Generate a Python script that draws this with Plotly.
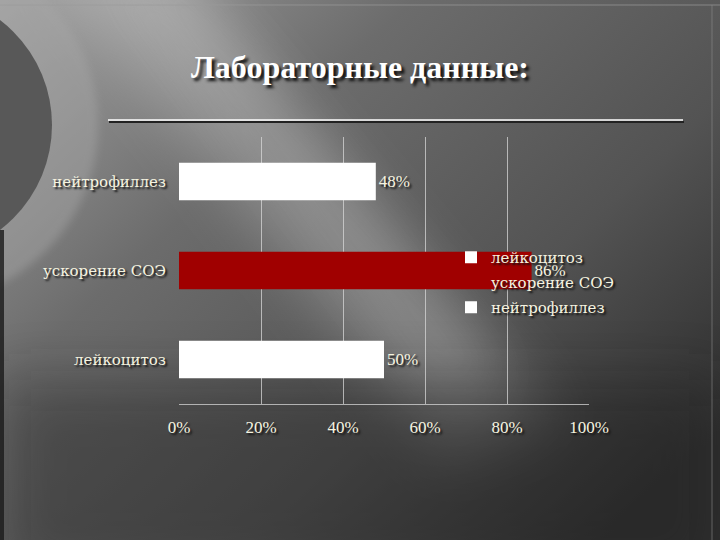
import urllib.parse
import plotly.graph_objects as go

# ---- data ----
categories = ["лейкоцитоз", "ускорение СОЭ", "нейтрофиллез"]
values = [50, 86, 48]
labels = ["50%", "86%", "48%"]
bar_colors = ["#ffffff", "#a00000", "#ffffff"]
tick_vals = [0, 20, 40, 60, 80, 100]
tick_text = ["0%", "20%", "40%", "60%", "80%", "100%"]
title_text = "Лабораторные данные:"

W, H = 720, 540
L, R, T, B = 179, 131, 137, 136
PW, PH = W - L - R, H - T - B


def px(x):
    return (x - L) / PW


def py(y):
    return (H - B - y) / PH


cream = "#f6f4e0"
serif = "Liberation Serif"
wide_serif = "DejaVu Serif"
shadow = "2px 2px 2px #111"

svg = f"""<svg xmlns='http://www.w3.org/2000/svg' width='{W}' height='{H}' viewBox='0 0 {W} {H}'>
<defs>
<linearGradient id='g' x1='0' y1='0' x2='1' y2='0.8'>
<stop offset='0' stop-color='#a2a2a2'/>
<stop offset='0.35' stop-color='#6c6c6c'/>
<stop offset='0.7' stop-color='#535353'/>
<stop offset='1' stop-color='#2e2e2e'/>
</linearGradient>
<filter id='b' x='-50%' y='-50%' width='200%' height='200%'><feGaussianBlur stdDeviation='28'/></filter>
<filter id='b2' x='-50%' y='-50%' width='200%' height='200%'><feGaussianBlur stdDeviation='4'/></filter>
</defs>
<rect width='{W}' height='{H}' fill='url(#g)'/>
<polygon points='40,-40 170,-40 560,420 440,460' fill='#ffffff' opacity='0.2' filter='url(#b)'/>
<polygon points='120,-40 170,-40 500,380 450,400' fill='#ffffff' opacity='0.12' filter='url(#b)'/>
<rect y='380' width='{W}' height='200' fill='#222' opacity='0.4' filter='url(#b)'/>
<circle cx='-80' cy='125' r='178' fill='#a8a8a8' opacity='0.45' filter='url(#b2)'/>
<circle cx='-80' cy='125' r='132' fill='#585858'/>
<rect x='0' y='230' width='4' height='320' fill='#1a1a1a' opacity='0.8'/>
<line x1='0' y1='5' x2='{W}' y2='5' stroke='#9a9a9a' stroke-width='1' opacity='0.7'/>
<line x1='712' y1='5' x2='712' y2='{H}' stroke='#8a8a8a' stroke-width='1' opacity='0.6'/>
</svg>"""
bg_src = "data:image/svg+xml;charset=utf-8," + urllib.parse.quote(svg)

fig = go.Figure()
for cat, val, lab, col in zip(categories, values, labels, bar_colors):
    fig.add_trace(go.Bar(
        y=[cat], x=[val], orientation="h", name=cat, legendgroup=cat,
        marker=dict(color=col, line=dict(width=0)),
        width=0.42,
        text=[lab], textposition="outside",
        textfont=dict(family=serif, size=17, color=cream, shadow=shadow),
        cliponaxis=False,
    ))

fig.update_layout(
    width=W, height=H,
    margin=dict(l=L, r=R, t=T, b=B),
    paper_bgcolor="#555555",
    plot_bgcolor="rgba(0,0,0,0)",
    barmode="overlay",
    title=dict(
        text=title_text, x=0.5, xref="container", xanchor="center",
        y=1 - 67 / H, yref="container", yanchor="middle",
        font=dict(family=serif, size=32, color="#ffffff", weight="bold",
                  shadow="3px 3px 3px #111"),
    ),
    xaxis=dict(
        range=[0, 100], tickvals=tick_vals, ticktext=tick_text,
        showgrid=True, gridcolor="rgba(215,215,215,0.75)", gridwidth=1,
        zeroline=False, showline=True, linecolor="rgba(215,215,215,0.75)",
        ticks="outside", ticklen=8, tickcolor="rgba(0,0,0,0)",
        tickfont=dict(family=serif, size=17, color=cream, shadow=shadow),
        fixedrange=True,
    ),
    yaxis=dict(
        type="category", categoryorder="array", categoryarray=categories,
        range=[-0.5, 2.5], showgrid=False, zeroline=False, showline=False,
        ticks="outside", ticklen=9, tickcolor="rgba(0,0,0,0)",
        tickfont=dict(family=wide_serif, size=15, color=cream, shadow=shadow),
        fixedrange=True,
    ),
    legend=dict(
        x=px(451), y=py(241), xanchor="left", yanchor="top",
        traceorder="grouped", bgcolor="rgba(0,0,0,0)", tracegroupgap=2.5,
        font=dict(family=wide_serif, size=15, color=cream, shadow=shadow),
        itemwidth=30,
    ),
    images=[dict(
        source=bg_src, xref="paper", yref="paper",
        x=px(0), y=py(0), sizex=W / PW, sizey=H / PH,
        xanchor="left", yanchor="top", sizing="stretch", layer="below",
    )],
    shapes=[
        dict(type="line", xref="paper", yref="paper",
             x0=px(109), x1=px(684), y0=py(122), y1=py(122),
             line=dict(color="#222222", width=2)),
        dict(type="line", xref="paper", yref="paper",
             x0=px(108), x1=px(683), y0=py(120), y1=py(120),
             line=dict(color="#ffffff", width=1.5)),
    ],
)

fig.write_html("out.html", post_script="document.body.style.margin='0';",
               config={"displayModeBar": False})
